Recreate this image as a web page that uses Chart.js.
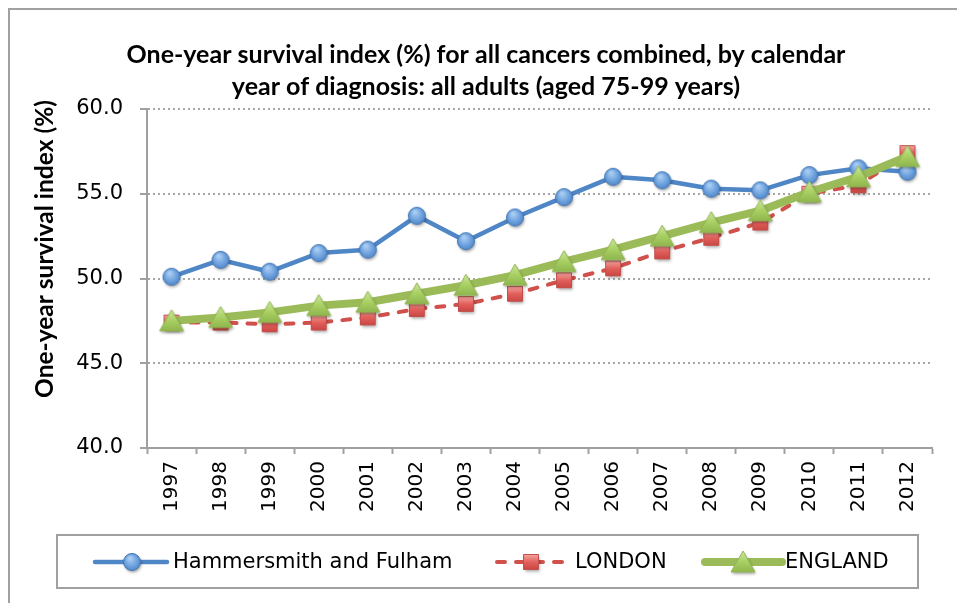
<!DOCTYPE html>
<html><head><meta charset="utf-8">
<script src="https://cdn.jsdelivr.net/npm/chart.js@4/dist/chart.umd.min.js"></script>
<style>html,body{margin:0;padding:0;background:#fff}#wrap{width:957px;height:603px}</style>
</head><body><div id="wrap"><canvas id="c" width="957" height="603"></canvas></div>
<script>
const years = ['1997','1998','1999','2000','2001','2002','2003','2004','2005','2006','2007','2008','2009','2010','2011','2012'];
const seriesNames = ['Hammersmith and Fulham', 'LONDON', 'ENGLAND'];
const hammersmith = [50.1, 51.1, 50.4, 51.5, 51.7, 53.7, 52.2, 53.6, 54.8, 56.0, 55.8, 55.3, 55.2, 56.1, 56.5, 56.3];
const london      = [47.4, 47.4, 47.3, 47.4, 47.7, 48.2, 48.5, 49.1, 49.9, 50.6, 51.6, 52.4, 53.3, 55.0, 55.5, 57.4];
const england     = [47.5, 47.7, 48.0, 48.4, 48.6, 49.1, 49.6, 50.2, 51.0, 51.7, 52.5, 53.3, 54.0, 55.1, 56.0, 57.2];
const yMin = 40, yMax = 60, yStep = 5;
const titleLines = ['One-year survival index (%) for all cancers combined, by calendar', 'year of diagnosis: all adults (aged 75-99 years)'];
const yAxisTitle = 'One-year survival index (%)';

function makeMarker(kind) {
  const c = document.createElement('canvas');
  c.width = 30; c.height = 30;
  const g = c.getContext('2d');
  g.shadowColor = 'rgba(0,0,0,0.35)';
  g.shadowBlur = 3; g.shadowOffsetX = 1; g.shadowOffsetY = 2;
  let grad, stroke;
  g.beginPath();
  if (kind === 'circle') {
    grad = g.createRadialGradient(13, 11, 1, 15, 15, 10);
    grad.addColorStop(0, '#a9cdf3'); grad.addColorStop(0.6, '#6a9fdc'); grad.addColorStop(1, '#4a7fc0');
    stroke = '#4478b6';
    g.arc(15, 15, 8.5, 0, Math.PI * 2);
  } else if (kind === 'square') {
    grad = g.createLinearGradient(0, 8, 0, 22);
    grad.addColorStop(0, '#f4a09c'); grad.addColorStop(0.5, '#e2605c'); grad.addColorStop(1, '#cc4844');
    stroke = '#c0504d';
    g.rect(7.5, 7.5, 15, 15);
  } else {
    grad = g.createLinearGradient(0, 4, 0, 26);
    grad.addColorStop(0, '#cde79e'); grad.addColorStop(0.5, '#a8cf62'); grad.addColorStop(1, '#8db44c');
    stroke = '#93b752';
    g.moveTo(15, 4); g.lineTo(27, 25); g.lineTo(3, 25); g.closePath();
  }
  g.fillStyle = grad; g.fill();
  g.shadowColor = 'transparent';
  g.lineWidth = 1; g.strokeStyle = stroke; g.stroke();
  return c;
}
const markers = [makeMarker('circle'), makeMarker('square'), makeMarker('triangle')];
const lineColors = ['#4f86c6', '#d0504c', '#9bbb59'];
const lineWidths = [4.5, 4, 8];
const lineDashes = [[], [8, 11], []];

const framePlugin = {
  id: 'frame',
  beforeDraw(chart) {
    const ctx = chart.ctx;
    ctx.save();
    ctx.fillStyle = '#fff';
    ctx.fillRect(0, 0, chart.width, chart.height);
    ctx.strokeStyle = '#a0a0a0';
    ctx.lineWidth = 2;
    ctx.strokeRect(9, 9, chart.width + 20, chart.height + 20);
    ctx.restore();
  },
  afterDraw(chart) {
    const ctx = chart.ctx;
    ctx.save();
    // y axis title
    ctx.translate(45, 249);
    ctx.rotate(-Math.PI / 2);
    ctx.font = 'bold 24.5px Lato';
    ctx.fillStyle = '#000';
    ctx.textAlign = 'center';
    ctx.textBaseline = 'middle';
    ctx.fillText(yAxisTitle, 0, 0);
    ctx.restore();

    // legend
    ctx.save();
    ctx.strokeStyle = '#a0a0a0';
    ctx.lineWidth = 2;
    ctx.strokeRect(57, 535, 861, 53);
    const cy = 562;
    const items = [
      {x0: 95, x1: 167, mx: 132, tx: 173},
      {x0: 497, x1: 568, mx: 531, tx: 575},
      {x0: 705, x1: 782, mx: 743, tx: 785}
    ];
    items.forEach((it, i) => {
      ctx.beginPath();
      ctx.setLineDash(lineDashes[i]);
      ctx.lineCap = 'round';
      ctx.strokeStyle = lineColors[i];
      ctx.lineWidth = lineWidths[i];
      ctx.moveTo(it.x0, cy); ctx.lineTo(it.x1, cy);
      ctx.stroke();
      ctx.setLineDash([]);
      const m = markers[i];
      ctx.drawImage(m, it.mx - m.width / 2, cy - m.height / 2);
      ctx.fillStyle = '#000';
      ctx.font = '21px "DejaVu Sans"';
      ctx.textAlign = 'left';
      ctx.textBaseline = 'middle';
      ctx.fillText(chart.data.datasets[i].label, it.tx, cy + 1);
    });
    ctx.restore();
  }
};

new Chart(document.getElementById('c'), {
  type: 'line',
  data: {
    labels: years,
    datasets: [
      {label: seriesNames[0], data: hammersmith, borderColor: lineColors[0], borderWidth: lineWidths[0], pointStyle: markers[0], pointRadius: 9, order: 3, tension: 0, borderJoinStyle: 'round'},
      {label: seriesNames[1], data: london, borderColor: lineColors[1], borderWidth: lineWidths[1], borderDash: lineDashes[1], borderCapStyle: 'round', pointStyle: markers[1], pointRadius: 9, order: 2, tension: 0},
      {label: seriesNames[2], data: england, borderColor: lineColors[2], borderWidth: lineWidths[2], pointStyle: markers[2], pointRadius: 9, order: 1, tension: 0, borderJoinStyle: 'round', borderCapStyle: 'round'}
    ]
  },
  options: {
    responsive: false,
    animation: false,
    devicePixelRatio: 1,
    layout: {padding: {left: 40, right: 25, top: 0, bottom: 0}},
    plugins: {
      legend: {display: false},
      tooltip: {enabled: false},
      title: {
        display: true,
        text: titleLines,
        color: '#000',
        font: {family: 'Lato', size: 25, weight: 'bold', lineHeight: '32px'},
        padding: {top: 39, bottom: 6}
      }
    },
    scales: {
      x: {
        offset: true,
        grid: {display: true, drawOnChartArea: false, offset: true, tickLength: 6, tickColor: '#a0a0a0', tickWidth: 2},
        border: {color: '#a0a0a0', width: 2},
        ticks: {minRotation: 90, maxRotation: 90, autoSkip: false, padding: 7, color: '#000', font: {family: 'DejaVu Sans', size: 20}},
        afterFit(s) { s.height = 155; }
      },
      y: {
        min: yMin, max: yMax,
        grid: {color: '#a6a6a6', lineWidth: 2, tickLength: 7, tickColor: '#a0a0a0', tickWidth: 2, tickBorderDash: []},
        border: {color: '#a0a0a0', width: 2, dash: [2, 3]},
        ticks: {stepSize: yStep, padding: 17, color: '#000', font: {family: 'DejaVu Sans', size: 21}, callback: v => Number(v).toFixed(1)},
        afterFit(s) { s.width = 107; }
      }
    }
  },
  plugins: [framePlugin]
});
</script>
</body></html>
